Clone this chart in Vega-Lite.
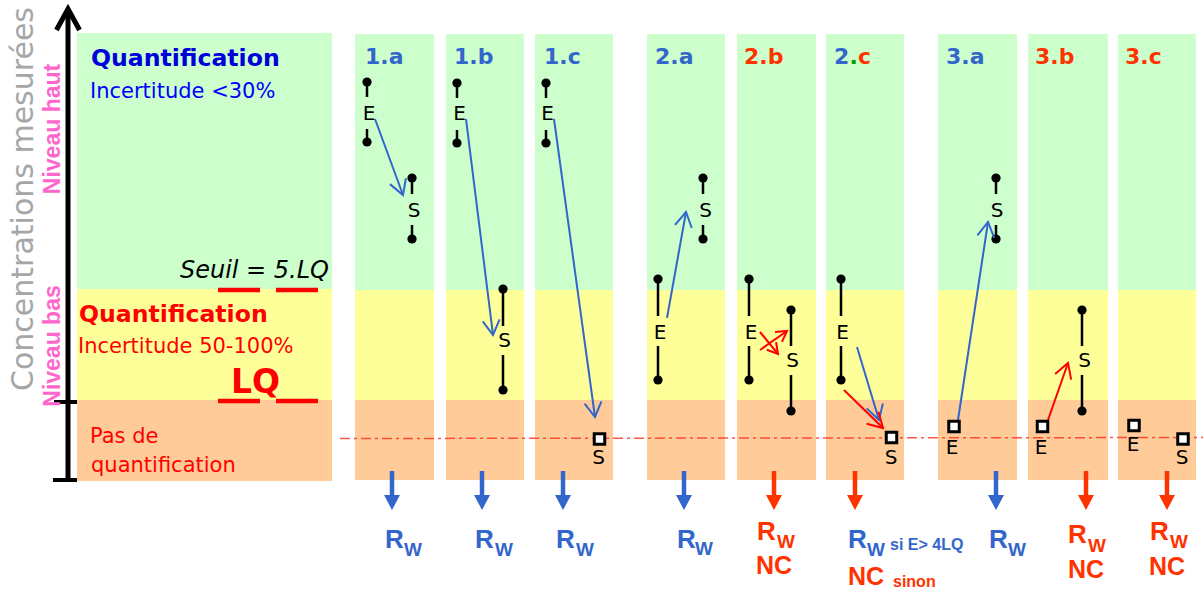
{
  "$schema": "https://vega.github.io/schema/vega-lite/v6.json",
  "width": 1203,
  "height": 595,
  "padding": 0,
  "autosize": {"type": "none"},
  "background": "white",
  "config": {"view": {"stroke": null}},
  "datasets": {
    "rects": [
      {"x": 77, "x2": 332, "y": 33, "y2": 289, "c": "#ccffcc"},
      {"x": 77, "x2": 332, "y": 289, "y2": 400, "c": "#ffff99"},
      {"x": 77, "x2": 332, "y": 400, "y2": 481, "c": "#ffcc99"},
      {"x": 355, "x2": 434, "y": 34, "y2": 290, "c": "#ccffcc"},
      {"x": 355, "x2": 434, "y": 290, "y2": 400, "c": "#ffff99"},
      {"x": 355, "x2": 434, "y": 400, "y2": 480, "c": "#ffcc99"},
      {"x": 446, "x2": 524, "y": 34, "y2": 290, "c": "#ccffcc"},
      {"x": 446, "x2": 524, "y": 290, "y2": 400, "c": "#ffff99"},
      {"x": 446, "x2": 524, "y": 400, "y2": 480, "c": "#ffcc99"},
      {"x": 535, "x2": 613, "y": 34, "y2": 290, "c": "#ccffcc"},
      {"x": 535, "x2": 613, "y": 290, "y2": 400, "c": "#ffff99"},
      {"x": 535, "x2": 613, "y": 400, "y2": 480, "c": "#ffcc99"},
      {"x": 647, "x2": 725, "y": 34, "y2": 290, "c": "#ccffcc"},
      {"x": 647, "x2": 725, "y": 290, "y2": 400, "c": "#ffff99"},
      {"x": 647, "x2": 725, "y": 400, "y2": 480, "c": "#ffcc99"},
      {"x": 737, "x2": 816, "y": 34, "y2": 290, "c": "#ccffcc"},
      {"x": 737, "x2": 816, "y": 290, "y2": 400, "c": "#ffff99"},
      {"x": 737, "x2": 816, "y": 400, "y2": 480, "c": "#ffcc99"},
      {"x": 826, "x2": 904, "y": 34, "y2": 290, "c": "#ccffcc"},
      {"x": 826, "x2": 904, "y": 290, "y2": 400, "c": "#ffff99"},
      {"x": 826, "x2": 904, "y": 400, "y2": 480, "c": "#ffcc99"},
      {"x": 938, "x2": 1017, "y": 34, "y2": 290, "c": "#ccffcc"},
      {"x": 938, "x2": 1017, "y": 290, "y2": 400, "c": "#ffff99"},
      {"x": 938, "x2": 1017, "y": 400, "y2": 480, "c": "#ffcc99"},
      {"x": 1028, "x2": 1108, "y": 34, "y2": 290, "c": "#ccffcc"},
      {"x": 1028, "x2": 1108, "y": 290, "y2": 400, "c": "#ffff99"},
      {"x": 1028, "x2": 1108, "y": 400, "y2": 480, "c": "#ffcc99"},
      {"x": 1118, "x2": 1196, "y": 34, "y2": 290, "c": "#ccffcc"},
      {"x": 1118, "x2": 1196, "y": 290, "y2": 400, "c": "#ffff99"},
      {"x": 1118, "x2": 1196, "y": 400, "y2": 480, "c": "#ffcc99"}
    ],
    "dashline": [{"x": 340, "y": 438.5, "x2": 1203, "y2": 437.5}],
    "segs": [
      {"x": 68, "y": 481, "x2": 68, "y2": 12, "c": "#000000", "w": 5},
      {"x": 54, "y": 402, "x2": 77, "y2": 402, "c": "#000000", "w": 4},
      {"x": 53, "y": 480, "x2": 77, "y2": 480, "c": "#000000", "w": 4},
      {"x": 218, "y": 290, "x2": 260, "y2": 290, "c": "#ff0000", "w": 4.5},
      {"x": 276, "y": 290, "x2": 318, "y2": 290, "c": "#ff0000", "w": 4.5},
      {"x": 218, "y": 401, "x2": 260, "y2": 401, "c": "#ff0000", "w": 4.5},
      {"x": 276, "y": 401, "x2": 318, "y2": 401, "c": "#ff0000", "w": 4.5},
      {"x": 367, "y": 82, "x2": 367, "y2": 97, "c": "#000000", "w": 2.5},
      {"x": 367, "y": 129, "x2": 367, "y2": 142, "c": "#000000", "w": 2.5},
      {"x": 412, "y": 178, "x2": 412, "y2": 194, "c": "#000000", "w": 2.5},
      {"x": 412, "y": 225, "x2": 412, "y2": 239, "c": "#000000", "w": 2.5},
      {"x": 457, "y": 83, "x2": 457, "y2": 98, "c": "#000000", "w": 2.5},
      {"x": 457, "y": 130, "x2": 457, "y2": 143, "c": "#000000", "w": 2.5},
      {"x": 503, "y": 289, "x2": 503, "y2": 326, "c": "#000000", "w": 2.5},
      {"x": 503, "y": 355, "x2": 503, "y2": 390, "c": "#000000", "w": 2.5},
      {"x": 546, "y": 83, "x2": 546, "y2": 98, "c": "#000000", "w": 2.5},
      {"x": 546, "y": 130, "x2": 546, "y2": 143, "c": "#000000", "w": 2.5},
      {"x": 658, "y": 279, "x2": 658, "y2": 316, "c": "#000000", "w": 2.5},
      {"x": 658, "y": 346, "x2": 658, "y2": 380, "c": "#000000", "w": 2.5},
      {"x": 703, "y": 178, "x2": 703, "y2": 194, "c": "#000000", "w": 2.5},
      {"x": 703, "y": 225, "x2": 703, "y2": 239, "c": "#000000", "w": 2.5},
      {"x": 749, "y": 279, "x2": 749, "y2": 316, "c": "#000000", "w": 2.5},
      {"x": 749, "y": 346, "x2": 749, "y2": 380, "c": "#000000", "w": 2.5},
      {"x": 791, "y": 310, "x2": 791, "y2": 346, "c": "#000000", "w": 2.5},
      {"x": 791, "y": 375, "x2": 791, "y2": 411, "c": "#000000", "w": 2.5},
      {"x": 841, "y": 279, "x2": 841, "y2": 316, "c": "#000000", "w": 2.5},
      {"x": 841, "y": 346, "x2": 841, "y2": 380, "c": "#000000", "w": 2.5},
      {"x": 996, "y": 178, "x2": 996, "y2": 194, "c": "#000000", "w": 2.5},
      {"x": 996, "y": 225, "x2": 996, "y2": 239, "c": "#000000", "w": 2.5},
      {"x": 1082, "y": 310, "x2": 1082, "y2": 346, "c": "#000000", "w": 2.5},
      {"x": 1082, "y": 375, "x2": 1082, "y2": 411, "c": "#000000", "w": 2.5},
      {"x": 375, "y": 119, "x2": 403, "y2": 195, "c": "#3366cc", "w": 2},
      {"x": 466, "y": 119, "x2": 493, "y2": 335, "c": "#3366cc", "w": 2},
      {"x": 554, "y": 119, "x2": 595, "y2": 417, "c": "#3366cc", "w": 2},
      {"x": 667, "y": 318, "x2": 686, "y2": 212, "c": "#3366cc", "w": 2},
      {"x": 760, "y": 350, "x2": 787, "y2": 331, "c": "#ff0000", "w": 2},
      {"x": 760, "y": 332, "x2": 778, "y2": 354, "c": "#ff0000", "w": 2},
      {"x": 857, "y": 347, "x2": 879, "y2": 420, "c": "#3366cc", "w": 2},
      {"x": 844, "y": 390, "x2": 883, "y2": 428, "c": "#ff0000", "w": 2},
      {"x": 958, "y": 420, "x2": 988, "y2": 222, "c": "#3366cc", "w": 2},
      {"x": 1048, "y": 420, "x2": 1068, "y2": 363, "c": "#ff0000", "w": 2},
      {"x": 392, "y": 471, "x2": 392, "y2": 497, "c": "#3366cc", "w": 4.5},
      {"x": 482, "y": 471, "x2": 482, "y2": 497, "c": "#3366cc", "w": 4.5},
      {"x": 563, "y": 471, "x2": 563, "y2": 497, "c": "#3366cc", "w": 4.5},
      {"x": 684, "y": 471, "x2": 684, "y2": 497, "c": "#3366cc", "w": 4.5},
      {"x": 774, "y": 471, "x2": 774, "y2": 497, "c": "#ff3300", "w": 4.5},
      {"x": 855, "y": 471, "x2": 855, "y2": 497, "c": "#ff3300", "w": 4.5},
      {"x": 996, "y": 471, "x2": 996, "y2": 497, "c": "#3366cc", "w": 4.5},
      {"x": 1086, "y": 471, "x2": 1086, "y2": 497, "c": "#ff3300", "w": 4.5},
      {"x": 1167, "y": 471, "x2": 1167, "y2": 497, "c": "#ff3300", "w": 4.5}
    ],
    "dots": [
      {"x": 367, "y": 82}, {"x": 367, "y": 142}, {"x": 412, "y": 178}, {"x": 412, "y": 239},
      {"x": 457, "y": 83}, {"x": 457, "y": 143}, {"x": 503, "y": 289}, {"x": 503, "y": 390},
      {"x": 546, "y": 83}, {"x": 546, "y": 143}, {"x": 658, "y": 279}, {"x": 658, "y": 380},
      {"x": 703, "y": 178}, {"x": 703, "y": 239}, {"x": 749, "y": 279}, {"x": 749, "y": 380},
      {"x": 791, "y": 310}, {"x": 791, "y": 411}, {"x": 841, "y": 279}, {"x": 841, "y": 380},
      {"x": 996, "y": 178}, {"x": 996, "y": 239}, {"x": 1082, "y": 310}, {"x": 1082, "y": 411}
    ],
    "squares": [
      {"x": 599.5, "y": 439}, {"x": 891.5, "y": 437.5}, {"x": 954, "y": 426.5},
      {"x": 1042.5, "y": 426.5}, {"x": 1134, "y": 425.5}, {"x": 1183, "y": 439}
    ],
    "heads": [
      {"x": 403, "y": 195, "a": 159.8, "c": "#3366cc", "s": 289},
      {"x": 493, "y": 335, "a": 172.9, "c": "#3366cc", "s": 289},
      {"x": 595, "y": 417, "a": 172.2, "c": "#3366cc", "s": 289},
      {"x": 686, "y": 212, "a": 10.2, "c": "#3366cc", "s": 289},
      {"x": 787, "y": 331, "a": 54.9, "c": "#ff0000", "s": 144},
      {"x": 778, "y": 354, "a": 140.7, "c": "#ff0000", "s": 144},
      {"x": 879, "y": 420, "a": 163.2, "c": "#3366cc", "s": 289},
      {"x": 883, "y": 428, "a": 134.3, "c": "#ff0000", "s": 289},
      {"x": 988, "y": 222, "a": 8.6, "c": "#3366cc", "s": 289},
      {"x": 1068, "y": 363, "a": 19.3, "c": "#ff0000", "s": 289}
    ],
    "axishead": [{"x": 68, "y": 9}],
    "tris": [
      {"x": 392, "y": 495, "c": "#3366cc"}, {"x": 482, "y": 495, "c": "#3366cc"},
      {"x": 563, "y": 495, "c": "#3366cc"}, {"x": 684, "y": 495, "c": "#3366cc"},
      {"x": 774, "y": 495, "c": "#ff3300"}, {"x": 855, "y": 495, "c": "#ff3300"},
      {"x": 996, "y": 495, "c": "#3366cc"}, {"x": 1086, "y": 495, "c": "#ff3300"},
      {"x": 1167, "y": 495, "c": "#ff3300"}
    ],
    "titles": [
      {"t": "1.a", "x": 365, "y": 64, "c": "#3366cc"},
      {"t": "1.b", "x": 454, "y": 64, "c": "#3366cc"},
      {"t": "1.c", "x": 544, "y": 64, "c": "#3366cc"},
      {"t": "2.a", "x": 655, "y": 64, "c": "#3366cc"},
      {"t": "2.b", "x": 744, "y": 64, "c": "#ff3300"},
      {"t": "2", "x": 834, "y": 64, "c": "#3366cc"},
      {"t": ".", "x": 849.5, "y": 64, "c": "#009900"},
      {"t": "c", "x": 858, "y": 64, "c": "#ff3300"},
      {"t": "3.a", "x": 946, "y": 64, "c": "#3366cc"},
      {"t": "3.b", "x": 1035, "y": 64, "c": "#ff3300"},
      {"t": "3.c", "x": 1125, "y": 64, "c": "#ff3300"}
    ],
    "letters": [
      {"t": "E", "x": 369, "y": 114}, {"t": "S", "x": 414, "y": 211},
      {"t": "E", "x": 459.5, "y": 114}, {"t": "S", "x": 504.5, "y": 341},
      {"t": "E", "x": 547.5, "y": 114}, {"t": "S", "x": 598.5, "y": 458},
      {"t": "E", "x": 660, "y": 333}, {"t": "S", "x": 705.5, "y": 211},
      {"t": "E", "x": 751, "y": 333}, {"t": "S", "x": 792.5, "y": 361},
      {"t": "E", "x": 842.5, "y": 333}, {"t": "S", "x": 891, "y": 458},
      {"t": "E", "x": 952, "y": 448}, {"t": "S", "x": 997, "y": 211},
      {"t": "E", "x": 1041, "y": 448}, {"t": "S", "x": 1084.5, "y": 361},
      {"t": "E", "x": 1133, "y": 445}, {"t": "S", "x": 1182, "y": 458}
    ],
    "quant": [
      {"t": "Quantification", "x": 91, "y": 66, "c": "#0000dd"},
      {"t": "Quantification", "x": 79, "y": 322, "c": "#ff0000"}
    ],
    "regular": [
      {"t": "Incertitude <30%", "x": 90, "y": 98, "c": "#0000ff"},
      {"t": "Incertitude 50-100%", "x": 78, "y": 353, "c": "#ff0000"},
      {"t": "Pas de", "x": 90, "y": 443, "c": "#ff0000"},
      {"t": "quantification", "x": 91, "y": 472, "c": "#ff0000"}
    ],
    "seuil": [{"t": "Seuil = 5.LQ", "x": 329, "y": 278}],
    "lq": [{"t": "LQ", "x": 231, "y": 393}],
    "conc": [{"t": "Concentrations mesurées", "x": 33, "y": 199}],
    "niveau": [
      {"t": "Niveau haut", "x": 60, "y": 129},
      {"t": "Niveau bas", "x": 60, "y": 346}
    ],
    "bottom": [
      {"t": "R", "x": 385, "y": 540, "s": 26, "c": "#3366cc"},
      {"t": "W", "x": 404, "y": 550, "s": 19, "c": "#3366cc"},
      {"t": "R", "x": 475, "y": 540, "s": 26, "c": "#3366cc"},
      {"t": "W", "x": 495, "y": 550, "s": 19, "c": "#3366cc"},
      {"t": "R", "x": 556, "y": 540, "s": 26, "c": "#3366cc"},
      {"t": "W", "x": 576, "y": 550, "s": 19, "c": "#3366cc"},
      {"t": "R", "x": 677, "y": 540, "s": 26, "c": "#3366cc"},
      {"t": "W", "x": 695, "y": 549, "s": 19, "c": "#3366cc"},
      {"t": "R", "x": 757, "y": 532, "s": 26, "c": "#ff3300"},
      {"t": "W", "x": 777, "y": 542, "s": 19, "c": "#ff3300"},
      {"t": "NC", "x": 756, "y": 566, "s": 25, "c": "#ff3300"},
      {"t": "R", "x": 848, "y": 540, "s": 26, "c": "#3366cc"},
      {"t": "W", "x": 867, "y": 550, "s": 19, "c": "#3366cc"},
      {"t": "si E> 4LQ", "x": 890, "y": 545, "s": 16, "c": "#3366cc"},
      {"t": "NC", "x": 848, "y": 577, "s": 25, "c": "#ff3300"},
      {"t": "sinon", "x": 893, "y": 582, "s": 16, "c": "#ff3300"},
      {"t": "R", "x": 989, "y": 540, "s": 26, "c": "#3366cc"},
      {"t": "W", "x": 1008, "y": 550, "s": 19, "c": "#3366cc"},
      {"t": "R", "x": 1068, "y": 535, "s": 26, "c": "#ff3300"},
      {"t": "W", "x": 1088, "y": 546, "s": 19, "c": "#ff3300"},
      {"t": "NC", "x": 1068, "y": 570, "s": 25, "c": "#ff3300"},
      {"t": "R", "x": 1150, "y": 532, "s": 26, "c": "#ff3300"},
      {"t": "W", "x": 1170, "y": 542, "s": 19, "c": "#ff3300"},
      {"t": "NC", "x": 1149, "y": 567, "s": 25, "c": "#ff3300"}
    ]
  },
  "encoding": {
    "x": {"field": "x", "type": "quantitative", "scale": {"domain": [0, 1203], "nice": false, "zero": false}, "axis": null},
    "y": {"field": "y", "type": "quantitative", "scale": {"domain": [0, 595], "nice": false, "zero": false, "reverse": true}, "axis": null}
  },
  "layer": [
    {
      "data": {"name": "rects"},
      "mark": {"type": "rect"},
      "encoding": {
        "x2": {"field": "x2"},
        "y2": {"field": "y2"},
        "color": {"field": "c", "type": "nominal", "scale": null}
      }
    },
    {
      "data": {"name": "dashline"},
      "mark": {"type": "rule", "color": "#ff2a1a", "strokeWidth": 1.5, "strokeDash": [10, 4, 3, 4], "opacity": 0.8},
      "encoding": {"x2": {"field": "x2"}, "y2": {"field": "y2"}}
    },
    {
      "data": {"name": "segs"},
      "mark": {"type": "rule"},
      "encoding": {
        "x2": {"field": "x2"},
        "y2": {"field": "y2"},
        "color": {"field": "c", "type": "nominal", "scale": null},
        "strokeWidth": {"field": "w", "type": "quantitative", "scale": null}
      }
    },
    {
      "data": {"name": "dots"},
      "mark": {"type": "point", "shape": "circle", "filled": true, "color": "#000000", "size": 85, "opacity": 1}
    },
    {
      "data": {"name": "squares"},
      "mark": {"type": "point", "shape": "square", "filled": true, "fill": "#ffffff", "stroke": "#000000", "strokeWidth": 3, "size": 110, "opacity": 1}
    },
    {
      "data": {"name": "heads"},
      "mark": {"type": "point", "shape": "M-1,1.73L0,0L1,1.73", "filled": false, "strokeWidth": 2, "opacity": 1},
      "encoding": {
        "color": {"field": "c", "type": "nominal", "scale": null},
        "angle": {"field": "a", "type": "quantitative", "scale": null},
        "size": {"field": "s", "type": "quantitative", "scale": null}
      }
    },
    {
      "data": {"name": "axishead"},
      "mark": {"type": "point", "shape": "M-0.55,1L0,0L0.55,1", "filled": false, "stroke": "#000000", "strokeWidth": 5, "size": 1764, "opacity": 1, "strokeJoin": "miter"}
    },
    {
      "data": {"name": "tris"},
      "mark": {"type": "point", "shape": "M-0.8,0L0.8,0L0,1.5Z", "filled": true, "size": 400, "opacity": 1},
      "encoding": {"color": {"field": "c", "type": "nominal", "scale": null}}
    },
    {
      "data": {"name": "titles"},
      "mark": {"type": "text", "font": "DejaVu Sans", "fontWeight": "bold", "fontSize": 22, "align": "left", "baseline": "alphabetic"},
      "encoding": {"text": {"field": "t"}, "color": {"field": "c", "type": "nominal", "scale": null}}
    },
    {
      "data": {"name": "letters"},
      "mark": {"type": "text", "font": "DejaVu Sans", "fontSize": 20, "align": "center", "baseline": "middle", "color": "#000000"},
      "encoding": {"text": {"field": "t"}}
    },
    {
      "data": {"name": "quant"},
      "mark": {"type": "text", "font": "DejaVu Sans", "fontWeight": "bold", "fontSize": 23.6, "align": "left", "baseline": "alphabetic"},
      "encoding": {"text": {"field": "t"}, "color": {"field": "c", "type": "nominal", "scale": null}}
    },
    {
      "data": {"name": "regular"},
      "mark": {"type": "text", "font": "DejaVu Sans", "fontSize": 21, "align": "left", "baseline": "alphabetic"},
      "encoding": {"text": {"field": "t"}, "color": {"field": "c", "type": "nominal", "scale": null}}
    },
    {
      "data": {"name": "seuil"},
      "mark": {"type": "text", "font": "DejaVu Sans", "fontStyle": "italic", "fontSize": 24, "align": "right", "baseline": "alphabetic", "color": "#000000"},
      "encoding": {"text": {"field": "t"}}
    },
    {
      "data": {"name": "lq"},
      "mark": {"type": "text", "font": "DejaVu Sans", "fontWeight": "bold", "fontSize": 33, "align": "left", "baseline": "alphabetic", "color": "#ff0000"},
      "encoding": {"text": {"field": "t"}}
    },
    {
      "data": {"name": "conc"},
      "mark": {"type": "text", "font": "DejaVu Sans", "fontSize": 30, "align": "center", "baseline": "alphabetic", "angle": 270, "color": "#a6a6a6"},
      "encoding": {"text": {"field": "t"}}
    },
    {
      "data": {"name": "niveau"},
      "mark": {"type": "text", "font": "Liberation Sans", "fontWeight": "bold", "fontSize": 23, "align": "center", "baseline": "alphabetic", "angle": 270, "color": "#ff66cc"},
      "encoding": {"text": {"field": "t"}}
    },
    {
      "data": {"name": "bottom"},
      "mark": {"type": "text", "font": "Liberation Sans", "fontWeight": "bold", "align": "left", "baseline": "middle"},
      "encoding": {
        "text": {"field": "t"},
        "color": {"field": "c", "type": "nominal", "scale": null},
        "size": {"field": "s", "type": "quantitative", "scale": null}
      }
    }
  ]
}
